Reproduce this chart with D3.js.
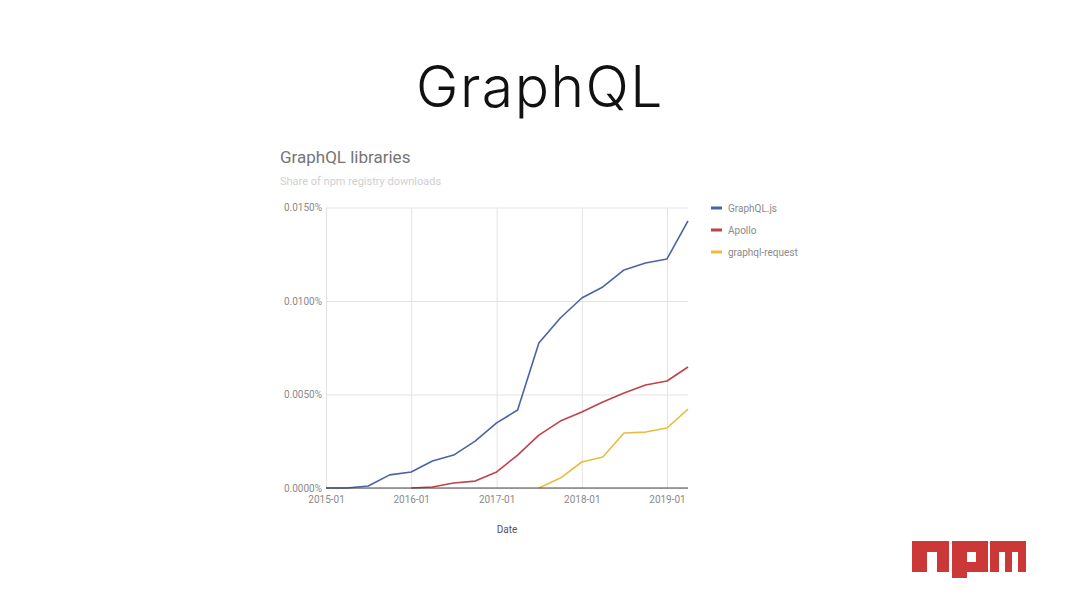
<!DOCTYPE html>
<html>
<head>
<meta charset="utf-8">
<script src="https://cdn.jsdelivr.net/npm/d3@7"></script>
<style>
  body { margin: 0; background: #fff; }
  #canvas { width: 1080px; height: 608px; }
</style>
</head>
<body>
<div id="canvas"></div>
<script>
"use strict"

/* data (share of npm downloads, in %) */
let quarters = ["2015-01", "2015-04", "2015-07", "2015-10",
    "2016-01", "2016-04", "2016-07", "2016-10",
    "2017-01", "2017-04", "2017-07", "2017-10",
    "2018-01", "2018-04", "2018-07", "2018-10",
    "2019-01", "2019-04"];
let graphqlJs = [0, 0, 0.00011, 0.00070, 0.00086, 0.00144, 0.00176, 0.00251,
    0.00348, 0.00417, 0.00775, 0.00909, 0.01016, 0.01075, 0.01166, 0.01203,
    0.01225, 0.01428];
let apollo = [null, null, null, null, 0, 0.00005, 0.00027, 0.00037,
    0.00086, 0.00176, 0.00283, 0.00358, 0.00406, 0.00460, 0.00508, 0.00551,
    0.00572, 0.00647];
let graphqlRequest = [null, null, null, null, null, null, null, null,
    null, null, 0, 0.00053, 0.00139, 0.00166, 0.00294, 0.00299,
    0.00321, 0.00422];
let seriesNames = ["GraphQL.js", "Apollo", "graphql-request"];
let seriesColors = ["#4a63a6", "#bf4348", "#e6be3e"];
let yTicks = [0, 0.005, 0.01, 0.015];
let xTicks = ["2015-01", "2016-01", "2017-01", "2018-01", "2019-01"];

let drawing = d3.select("#canvas")
    .append("svg")
    .attr("width", 1080)
    .attr("height", 608);

let parseMonth = d3.timeParse("%Y-%m");
let formatMonth = d3.timeFormat("%Y-%m");

/* slide title */
drawing.append("text")
    .attr("x", 540)
    .attr("y", 107)
    .attr("text-anchor", "middle")
    .attr("font-family", "Inter, 'Noto Sans', sans-serif")
    .attr("font-size", 57)
    .attr("font-weight", 300)
    .attr("letter-spacing", 1.5)
    .attr("fill", "#111")
    .text("GraphQL");

/* chart title + subtitle */
drawing.append("text")
    .attr("x", 280)
    .attr("y", 163)
    .attr("font-family", "Roboto, sans-serif")
    .attr("font-size", 17)
    .attr("fill", "#757575")
    .text("GraphQL libraries");

drawing.append("text")
    .attr("x", 280)
    .attr("y", 185)
    .attr("font-family", "Roboto, sans-serif")
    .attr("font-size", 11)
    .attr("fill", "#cfcfcf")
    .text("Share of npm registry downloads");

/* scales */
let x = d3.scaleTime()
    .domain([parseMonth("2015-01"), parseMonth("2019-04")])
    .range([326, 688]);

let y = d3.scaleLinear()
    .domain([0, 0.015])
    .range([488, 207.5]);

/* gridlines */
let yGrid = drawing.append("g")
    .attr("transform", "translate(326,0)")
    .call(d3.axisLeft(y).tickValues(yTicks).tickSize(-362).tickFormat(""));
yGrid.select(".domain").remove();
yGrid.selectAll("line").attr("stroke", "#e3e3e3");

let xGrid = drawing.append("g")
    .attr("transform", "translate(0,488)")
    .call(d3.axisBottom(x).tickValues(xTicks.map(parseMonth)).tickSize(-280.5).tickFormat(""));
xGrid.select(".domain").remove();
xGrid.selectAll("line").attr("stroke", "#e3e3e3");

/* y labels */
let yAxis = drawing.append("g")
    .attr("transform", "translate(322,0)")
    .call(d3.axisLeft(y).tickValues(yTicks).tickSize(0).tickPadding(0)
        .tickFormat(d => d3.format(".4f")(d) + "%"));
yAxis.select(".domain").remove();
yAxis.selectAll("text")
    .attr("font-family", "Roboto, sans-serif")
    .attr("font-size", 10)
    .attr("fill", "#8a8a8a");

/* x labels */
let xAxis = drawing.append("g")
    .attr("transform", "translate(0,488)")
    .call(d3.axisBottom(x).tickValues(xTicks.map(parseMonth)).tickSize(0).tickPadding(8)
        .tickFormat(formatMonth));
xAxis.select(".domain").remove();
xAxis.selectAll("text")
    .attr("font-family", "Roboto, sans-serif")
    .attr("font-size", 10)
    .attr("fill", "#8a8a8a");

drawing.append("text")
    .attr("x", 507)
    .attr("y", 533)
    .attr("text-anchor", "middle")
    .attr("font-family", "Roboto, sans-serif")
    .attr("font-size", 10)
    .attr("fill", "#555")
    .text("Date");

/* lines */
let allSeries = [graphqlJs, apollo, graphqlRequest];
let line = d3.line()
    .defined(d => d.v !== null)
    .x(d => x(d.t))
    .y(d => y(d.v));

allSeries.forEach(function (values, i) {
    let pts = values.map((v, j) => ({ t: parseMonth(quarters[j]), v: v }));
    drawing.append("path")
        .datum(pts)
        .attr("d", line)
        .attr("fill", "none")
        .attr("stroke", seriesColors[i])
        .attr("stroke-width", 1.6)
        .attr("stroke-linejoin", "round");
});

/* baseline */
drawing.append("line")
    .attr("x1", 326)
    .attr("x2", 688)
    .attr("y1", y(0))
    .attr("y2", y(0))
    .attr("stroke", "#444")
    .attr("stroke-width", 1);

/* legend */
let legend = drawing.append("g");
seriesNames.forEach(function (name, i) {
    let ly = 208 + i * 22;
    legend.append("line")
        .attr("x1", 711)
        .attr("x2", 722)
        .attr("y1", ly)
        .attr("y2", ly)
        .attr("stroke", seriesColors[i])
        .attr("stroke-width", 3);
    legend.append("text")
        .attr("x", 728)
        .attr("y", ly + 3.5)
        .attr("font-family", "Roboto, sans-serif")
        .attr("font-size", 10)
        .attr("fill", "#8a8a8a")
        .text(name);
});

/* npm logo, letters drawn as red shapes */
let npm = drawing.append("g").attr("fill", "#cb3837");
// n
npm.append("path")
    .attr("fill-rule", "evenodd")
    .attr("d", "M912,541 H949 V572 H937 V552 H927 V572 H912 Z");
// p
npm.append("path")
    .attr("fill-rule", "evenodd")
    .attr("d", "M952,541 H988 V572 H967 V578 H952 Z M967,552 V562 H976 V552 Z");
// m
npm.append("path")
    .attr("d", "M990,541 H1026 V572 H1018 V552 H1012 V572 H1005 V552 H999 V572 H990 Z");
</script>
</body>
</html>
